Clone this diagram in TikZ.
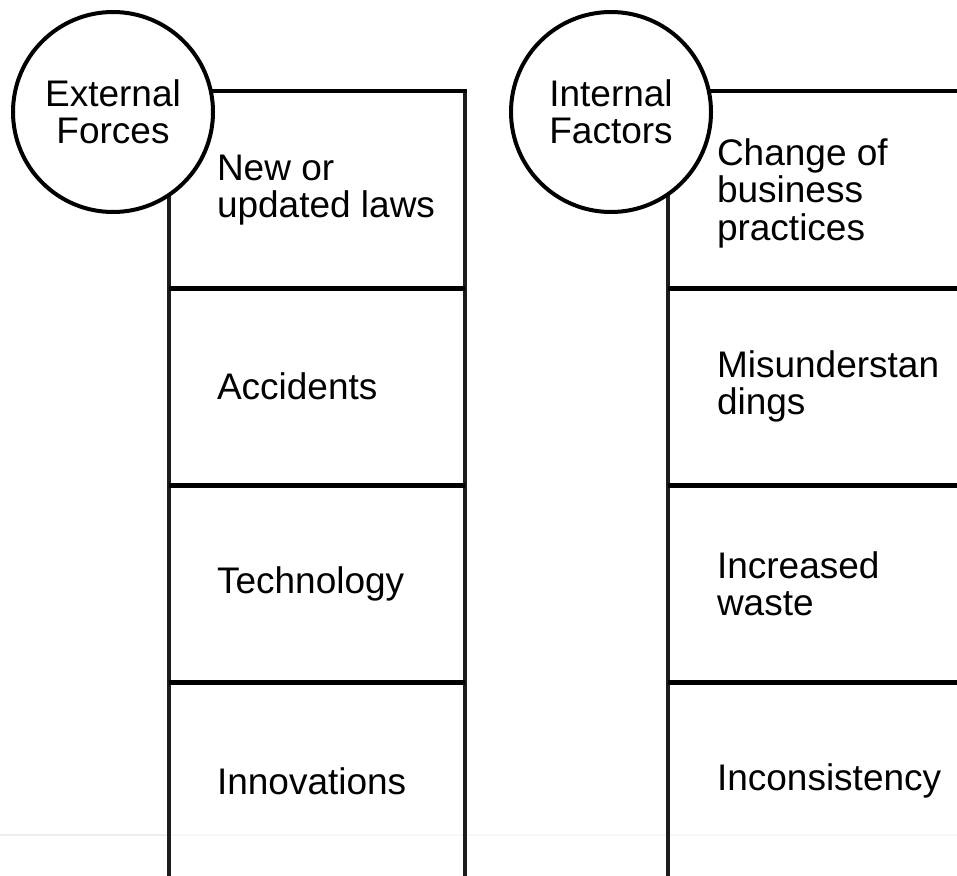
\documentclass[tikz,border=0pt]{standalone}
\usepackage{fontspec}
\setmainfont{Liberation Sans}
\begin{document}
\begin{tikzpicture}[x=1pt,y=-1pt,
  cell/.style={rectangle,draw=none,minimum width=296pt,minimum height=197pt,inner sep=0pt},
  vline/.style={line width=4pt,draw={rgb,255:red,28;green,28;blue,28}},
  hline/.style={line width=5pt,draw=black},
  label/.style={anchor=west,align=left,inner sep=0pt,font=\fontsize{37}{37.5}\selectfont},
  ring/.style={circle,draw=black,line width=4pt,fill=white,minimum size=200pt,inner sep=0pt,align=center,font=\fontsize{37}{37.5}\selectfont}]
\useasboundingbox (0,0) rectangle (957,875);
\fill[white] (0,0) rectangle (957,875);
% faint baseline
\coordinate (g0) at (0,835);
\coordinate (g1) at (169,835);
\coordinate (g2) at (957,835);
\draw[line width=2pt,draw=black!7] (g0) -- (g1);
\draw[line width=2pt,draw=black!3] (g1) -- (g2);
% left column
\node[cell] (a1) at (317,190) {};
\node[cell] (a2) at (317,386.5) {};
\node[cell] (a3) at (317,584) {};
\node[cell] (a4) at (317,781) {};
% right column
\node[cell] (b1) at (816,190) {};
\node[cell] (b2) at (816,386.5) {};
\node[cell] (b3) at (816,584) {};
\node[cell] (b4) at (816,781) {};
% column borders
\draw[vline] (a1.north west) -- (a4.south west);
\draw[vline] (a1.north east) -- (a4.south east);
\draw[vline] (b1.north west) -- (b4.south west);
\draw[line width=4pt] ([xshift=-2pt]a1.north west) -- ([xshift=2pt]a1.north east);
\draw[line width=4pt] ([xshift=-2pt]b1.north west) -- (b1.north east);
\draw[hline] (a1.south west) -- (a1.south east);
\draw[hline] (a2.south west) -- (a2.south east);
\draw[hline] (a3.south west) -- (a3.south east);
\draw[hline] (b1.south west) -- (b1.south east);
\draw[hline] (b2.south west) -- (b2.south east);
\draw[hline] (b3.south west) -- (b3.south east);
% labels
\node[label] (ta1) at ([xshift=48pt]a1.west) {New or\\updated laws};
\node[label] (ta2) at ([xshift=48pt]a2.west) {Accidents};
\node[label] (ta3) at ([xshift=48pt]a3.west) {Technology};
\node[label] (ta4) at ([xshift=48pt]a4.west) {Innovations};
\node[label] (tb1) at ([xshift=49pt,yshift=-3pt]b1.west) {Change of\\business\\practices};
\node[label] (tb2) at ([xshift=49pt]b2.west) {Misunderstan\\dings};
\node[label] (tb3) at ([xshift=49pt]b3.west) {Increased\\waste};
\node[label] (tb4) at ([xshift=49pt]b4.west) {Inconsistency};
% circles
\node[ring] (ext) at (113,112) {External\\Forces};
\node[ring] (int) at (611,112) {Internal\\Factors};
\end{tikzpicture}
\end{document}
